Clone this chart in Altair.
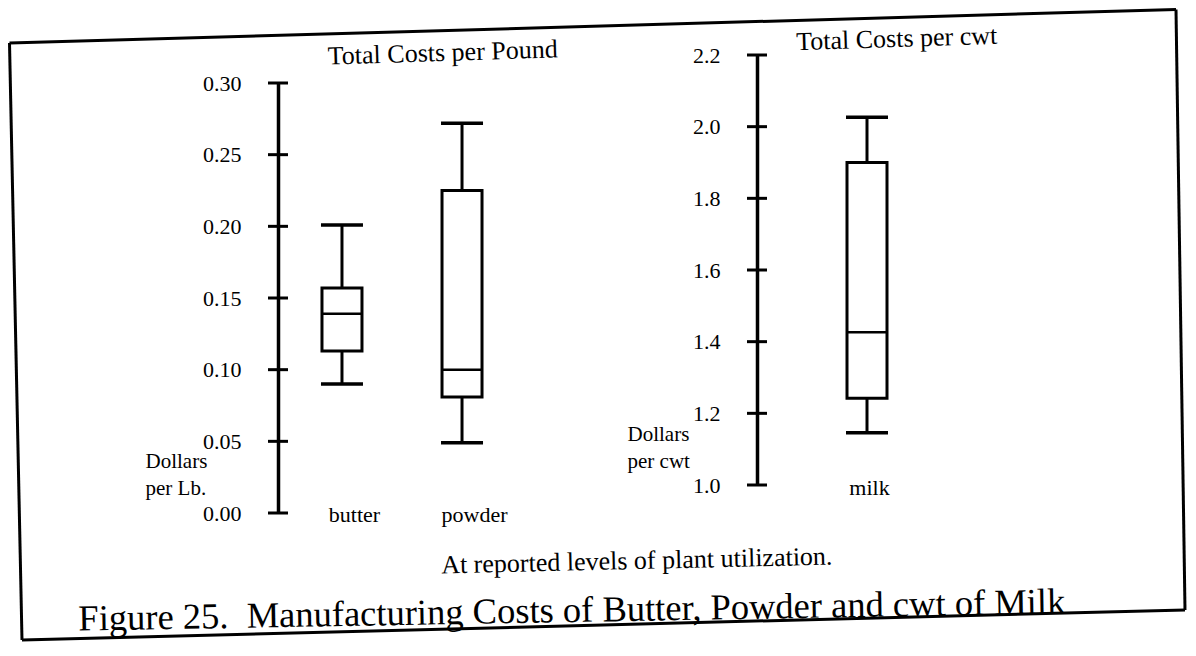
import altair as alt
import pandas as pd

# ---------------- data ----------------
left_cats = ["butter", "powder"]
left_min = [0.090, 0.049]
left_q1 = [0.113, 0.081]
left_med = [0.139, 0.100]
left_q3 = [0.157, 0.225]
left_max = [0.201, 0.272]

right_cats = ["milk"]
right_min = [1.146]
right_q1 = [1.242]
right_med = [1.426]
right_q3 = [1.900]
right_max = [2.026]

left_ticks = [0.00, 0.05, 0.10, 0.15, 0.20, 0.25, 0.30]
right_ticks = [1.0, 1.2, 1.4, 1.6, 1.8, 2.0, 2.2]

left_title = "Total Costs per Pound"
right_title = "Total Costs per cwt"
left_ytitle = ["Dollars", "per Lb."]
right_ytitle = ["Dollars", "per cwt"]
note_text = "At reported levels of plant utilization."
caption_text = "Figure 25.\u00a0 Manufacturing Costs of Butter, Powder and cwt of Milk"

FONT = "Liberation Serif"
LW = 3
INK = "black"
one = pd.DataFrame({"k": [0]})


def seg(x1, y1, x2, y2):
    return alt.Chart(one).mark_rule(color=INK, strokeWidth=3).encode(
        x=alt.value(x1), y=alt.value(y1), x2=alt.value(x2), y2=alt.value(y2))


def label(text, x, y, size, angle):
    return alt.Chart(one).mark_text(font=FONT, fontSize=size, color=INK, align="center",
                                    baseline="alphabetic", angle=angle).encode(
        x=alt.value(x), y=alt.value(y), text=alt.value(text))


def panel(cats, mins, q1s, meds, q3s, maxs, ticks, ydomain, yrange, width, height,
          xpad, fmt, ytitle, ytitle_x, ytitle_y, xlab_pad, xlab_off, title_layer, extra=()):
    df = pd.DataFrame({"cat": cats, "lo": mins, "q1": q1s, "med": meds, "q3": q3s, "hi": maxs})
    tdf = pd.DataFrame({"v": ticks})
    xsc = alt.Scale(type="point", domain=cats, padding=xpad)
    ysc = alt.Scale(domain=ydomain, range=yrange)
    xaxis = alt.Axis(title=None, domain=False, ticks=False, tickSize=0, labelAngle=0,
                     labelFont=FONT, labelFontSize=22, labelColor=INK,
                     labelPadding=xlab_pad, labelOffset=xlab_off,
                     labelBaseline="alphabetic", grid=False)
    yaxis = alt.Axis(values=ticks, format=fmt, ticks=False, tickSize=0, grid=False,
                     domainColor=INK, domainWidth=LW + 0.5,
                     labelFont=FONT, labelFontSize=22, labelColor=INK, labelPadding=37,
                     title=ytitle, titleAngle=0, titleX=ytitle_x, titleY=ytitle_y,
                     titleAlign="left", titleBaseline="alphabetic", titleLineHeight=27,
                     titleFont=FONT, titleFontSize=21, titleFontWeight="normal",
                     titleColor=INK)

    crosses = alt.Chart(tdf).mark_tick(color=INK, opacity=1, thickness=LW, size=20).encode(
        x=alt.value(0),
        y=alt.Y("v:Q", scale=ysc, axis=yaxis),
    )
    base = alt.Chart(df)
    w_low = base.mark_rule(color=INK, strokeWidth=LW).encode(
        x=alt.X("cat:N", scale=xsc, axis=xaxis),
        y=alt.Y("lo:Q", scale=ysc),
        y2="q1:Q",
    )
    w_high = base.mark_rule(color=INK, strokeWidth=LW).encode(
        x=alt.X("cat:N", scale=xsc),
        y=alt.Y("q3:Q", scale=ysc),
        y2="hi:Q",
    )
    box = base.mark_bar(fill="white", stroke=INK, strokeWidth=LW, size=40).encode(
        x=alt.X("cat:N", scale=xsc),
        y=alt.Y("q1:Q", scale=ysc),
        y2="q3:Q",
    )
    med = base.mark_tick(color=INK, opacity=1, thickness=2.5, size=40).encode(
        x=alt.X("cat:N", scale=xsc),
        y=alt.Y("med:Q", scale=ysc),
    )
    cap_lo = base.mark_tick(color=INK, opacity=1, thickness=LW + 0.5, size=42).encode(
        x=alt.X("cat:N", scale=xsc),
        y=alt.Y("lo:Q", scale=ysc),
    )
    cap_hi = base.mark_tick(color=INK, opacity=1, thickness=LW + 0.5, size=42).encode(
        x=alt.X("cat:N", scale=xsc),
        y=alt.Y("hi:Q", scale=ysc),
    )
    return alt.layer(crosses, w_low, w_high, box, med, cap_lo, cap_hi, title_layer,
                     *extra).properties(width=width, height=height)


# decorations (frame of the scanned figure and the caption lines), in left-panel pixels
frame = [
    seg(-268.5, -12, 898, -45.5),
    seg(898, -45.5, 907, 555),
    seg(907, 555, -256, 585),
    seg(-256, 585, -268.5, -12),
]
notes = [
    label(note_text, 359, 514, 26, 358.7),
    label(caption_text, 294, 567, 36.5, 359),
]

left = panel(left_cats, left_min, left_q1, left_med, left_q3, left_max, left_ticks,
             [0, 0.30], [458, 28], 248, 458, 0.533, ".2f", left_ytitle, -133, 412, 8, 12,
             label(left_title, 165, 6, 26, 358.2), extra=frame + notes)
right = panel(right_cats, right_min, right_q1, right_med, right_q3, right_max, right_ticks,
              [1.0, 2.2], [430, 0], 220, 430, 0.5, ".1f", right_ytitle, -130, 385, 9, 2,
              label(right_title, 140, -8, 26, 358.2))

chart = alt.hconcat(left, right, spacing=231, bounds="flush", padding=0).configure_view(
    strokeWidth=0
)

chart.save("out.html", embed_options={"renderer": "svg", "actions": False})
